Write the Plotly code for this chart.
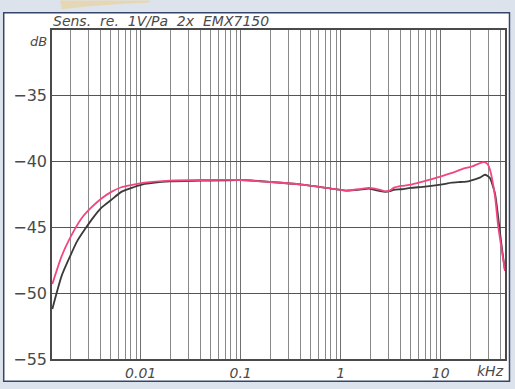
import plotly.graph_objects as go
import numpy as np

# frequency in kHz, sensitivity in dB re 1V/Pa
freq_pink = [0.00131, 0.00162, 0.00197, 0.00257, 0.0032, 0.00406, 0.0051, 0.00641, 0.0085, 0.0110,
             0.0196, 0.04, 0.1, 0.2, 0.41, 0.8, 1.12, 1.5, 1.91, 2.2, 2.5, 2.8, 3.1, 3.39,
             4.07, 5.0, 6.0, 8.0, 10.3, 13.0, 17.5, 21.0, 24.0, 27.7, 29.5, 31.1, 34.9, 37.6, 41.0, 44.0]
db_pink = [-49.3, -47.2, -45.8, -44.3, -43.5, -42.8, -42.3, -41.95, -41.75, -41.6,
           -41.45, -41.4, -41.4, -41.55, -41.75, -42.05, -42.2, -42.1, -42.0, -42.05, -42.15, -42.25, -42.2, -42.0,
           -41.85, -41.75, -41.6, -41.35, -41.1, -40.85, -40.5, -40.35, -40.15, -40.05, -40.2, -40.6, -42.6, -44.9, -46.8, -48.3]

freq_black = [0.00131, 0.00162, 0.00197, 0.0023, 0.00277, 0.0034, 0.00406, 0.0051, 0.00641, 0.0085, 0.0110,
              0.0196, 0.04, 0.1, 0.2, 0.41, 0.8, 1.12, 1.5, 1.91, 2.2, 2.5, 2.8, 3.1, 3.39,
              4.07, 5.0, 7.0, 10.0, 12.9, 16.0, 18.9, 22.0, 25.0, 27.7, 29.5, 31.1, 34.9, 38.0, 41.0, 44.0]
db_black = [-51.2, -48.7, -47.2, -46.1, -45.15, -44.2, -43.5, -42.9, -42.3, -41.95, -41.7,
            -41.5, -41.45, -41.4, -41.55, -41.75, -42.05, -42.2, -42.15, -42.05, -42.15, -42.25, -42.3, -42.25, -42.15,
            -42.1, -42.0, -41.9, -41.75, -41.6, -41.55, -41.5, -41.35, -41.2, -41.0, -41.1, -41.25, -42.4, -44.5, -46.6, -48.3]

x_tick_vals = [0.01, 0.1, 1, 10]
x_tick_text = ["0.01", "0.1", "1", "10"]
y_tick_vals = [-55, -50, -45, -40, -35]
title_text = "Sens.  re.  1V/Pa  2x  EMX7150"

x_range = [np.log10(0.0013), np.log10(44.0)]
minor_vals = [m * d for d in [0.001, 0.01, 0.1, 1, 10] for m in range(2, 10) if 0.0013 <= m * d <= 44]

font_family = "DejaVu Sans"
txt_color = "#4a4a4a"

fig = go.Figure()
fig.add_trace(go.Scatter(x=freq_black, y=db_black, mode="lines",
                         line=dict(color="#3a3a3a", width=1.8, shape="spline", smoothing=0.6),
                         showlegend=False, hoverinfo="skip"))
fig.add_trace(go.Scatter(x=freq_pink, y=db_pink, mode="lines",
                         line=dict(color="#f24680", width=1.8, shape="spline", smoothing=0.6),
                         showlegend=False, hoverinfo="skip"))

fig.update_xaxes(type="log", range=x_range, tickmode="array", tickvals=x_tick_vals, ticktext=x_tick_text,
                 showgrid=True, gridcolor="#707070", gridwidth=1, ticks="",
                 minor=dict(tickmode="array", tickvals=minor_vals, showgrid=True, gridcolor="#8a8a8a", gridwidth=1),
                 showline=True, linecolor="#4a4a4a", linewidth=1.5, mirror=True, zeroline=False,
                 tickfont=dict(family=font_family, size=14, color=txt_color, style="italic"))
fig.update_yaxes(range=[-55, -30], tickmode="array", tickvals=y_tick_vals,
                 showgrid=True, gridcolor="#555555", gridwidth=1.3, ticks="",
                 showline=True, linecolor="#4a4a4a", linewidth=1.5, mirror=True, zeroline=False,
                 tickfont=dict(family=font_family, size=16, color=txt_color))

L, R, T, B = 52, 8, 30, 25
W, H = 515, 389
pw, ph = W - L - R, H - T - B

def px(x):
    return (x - L) / pw

def py(y):
    return (H - B - y) / ph

fig.add_shape(type="rect", xref="paper", yref="paper", layer="below",
              x0=px(3.5), x1=px(511.5), y0=py(386.5), y1=py(12.5),
              line=dict(color="#34466a", width=1.5), fillcolor="white")

# scan artefact (beige smudge along top edge)
blob = "M {:.4f},{:.4f} L {:.4f},{:.4f} L {:.4f},{:.4f} Q {:.4f},{:.4f} {:.4f},{:.4f} Z".format(
    px(60), py(0), px(150), py(0), px(150), py(2), px(100), py(4), px(62), py(9))
fig.add_shape(type="path", xref="paper", yref="paper", path=blob, layer="below",
              fillcolor="#e6d7b4", line=dict(width=0))

fig.add_annotation(text=title_text, xref="paper", yref="paper", x=px(51), y=py(21),
                   xanchor="left", yanchor="middle", showarrow=False,
                   font=dict(family=font_family, size=14, color=txt_color, style="italic"))
fig.add_annotation(text="dB", xref="paper", yref="paper", x=px(49), y=py(42),
                   xanchor="right", yanchor="middle", showarrow=False,
                   font=dict(family=font_family, size=13, color=txt_color, style="italic"))
fig.add_annotation(text="kHz", xref="paper", yref="paper", x=px(492), y=py(376),
                   xanchor="center", yanchor="middle", showarrow=False,
                   font=dict(family=font_family, size=14, color=txt_color, style="italic"))

fig.update_layout(width=W, height=H, margin=dict(l=L, r=R, t=T, b=B, pad=0),
                  paper_bgcolor="#dde3ec", plot_bgcolor="white", showlegend=False)

fig.write_html("out.html", config={"displayModeBar": False},
               post_script="document.body.style.margin='0';document.body.style.overflow='hidden';")
